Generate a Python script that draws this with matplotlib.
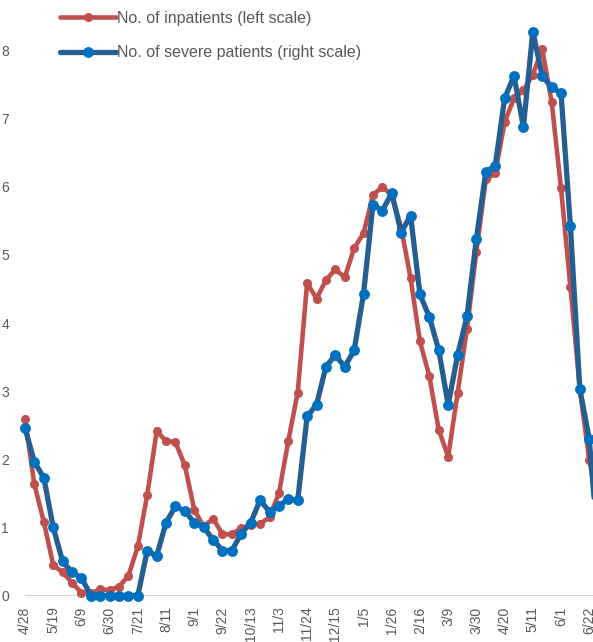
import matplotlib
matplotlib.use("Agg")
import matplotlib.pyplot as plt

plt.rcParams["font.family"] = ["Liberation Sans", "DejaVu Sans"]

# weekly series, starting 4/28
inpatients = [
    2.59, 1.63, 1.08, 0.45, 0.34, 0.19, 0.04, 0.03, 0.09, 0.08,
    0.13, 0.29, 0.72, 1.48, 2.41, 2.27, 2.25, 1.91, 1.26, 1.01,
    1.13, 0.90, 0.90, 0.99, 1.03, 1.05, 1.15, 1.50, 2.27, 2.98,
    4.59, 4.36, 4.63, 4.79, 4.67, 5.10, 5.32, 5.88, 6.00, 5.88,
    5.40, 4.66, 3.73, 3.22, 2.43, 2.04, 2.97, 3.92, 5.05, 6.11,
    6.20, 6.95, 7.30, 7.42, 7.65, 8.02, 7.25, 5.98, 4.53, 3.03,
    1.99, 1.30,
]
severe = [
    2.46, 1.96, 1.73, 1.00, 0.50, 0.34, 0.26, 0.00, 0.00, 0.00,
    0.00, 0.00, 0.00, 0.66, 0.58, 1.07, 1.31, 1.24, 1.07, 1.00,
    0.82, 0.66, 0.66, 0.91, 1.07, 1.40, 1.23, 1.32, 1.41, 1.40,
    2.63, 2.80, 3.36, 3.53, 3.36, 3.60, 4.43, 5.74, 5.65, 5.91,
    5.33, 5.58, 4.42, 4.09, 3.60, 2.80, 3.53, 4.10, 5.24, 6.22,
    6.31, 7.30, 7.63, 6.88, 8.28, 7.63, 7.46, 7.38, 5.42, 3.03,
    2.30, 0.60,
]
tick_labels = [
    "4/28", "5/19", "6/9", "6/30", "7/21", "8/11", "9/1", "9/22",
    "10/13", "11/3", "11/24", "12/15", "1/5", "1/26", "2/16", "3/9",
    "3/30", "4/20", "5/11", "6/1", "6/22",
]

weeks = list(range(len(inpatients)))
tick_pos = weeks[::3][:len(tick_labels)]

RED = "#C0504D"
BLUE_LINE = "#255E91"
BLUE_MARK = "#0070C0"
GREY = "#595959"

fig = plt.figure(figsize=(5.93, 6.42), dpi=100)
ax = fig.add_axes([25 / 593, 46.5 / 642, 1 - 25 / 593, 8.7 * 68.1 / 642])

l1, = ax.plot(weeks, inpatients, color=RED, lw=3.3, marker="o", ms=5.5,
              mfc=RED, mec=RED, solid_capstyle="round", clip_on=False,
              label="No. of inpatients (left scale)")

ax2 = ax.twinx()
l2, = ax2.plot(weeks, severe, color=BLUE_LINE, lw=3.8, marker="o", ms=6.8,
               mfc=BLUE_MARK, mec=BLUE_MARK, solid_capstyle="round",
               clip_on=False,
               label="No. of severe patients (right scale)")

for a in (ax, ax2):
    a.set_xlim(0, 60.4)
    a.set_ylim(0, 8.7)
    for s in a.spines.values():
        s.set_visible(False)

ax.axhline(0, color="#D9D9D9", lw=1.5, zorder=0)
ax.set_yticks(range(9))
ax.tick_params(axis="y", length=0, pad=11.5, labelsize=10, labelcolor=GREY)
ax.set_xticks(tick_pos)
ax.set_xticklabels(tick_labels, rotation=90)
ax.tick_params(axis="x", length=0, pad=8, labelsize=10, labelcolor=GREY)
ax2.set_yticks([])

leg = ax2.legend(handles=[l1, l2], loc="upper left",
                 bbox_to_anchor=(60 / 593, 1 - 11 / 642),
                 bbox_transform=fig.transFigure, frameon=False,
                 fontsize=11.5, handlelength=3.5, handletextpad=0.05,
                 labelspacing=1.22, borderpad=0, borderaxespad=0)
for t in leg.get_texts():
    t.set_color(GREY)

fig.savefig("out.png", dpi=100)
